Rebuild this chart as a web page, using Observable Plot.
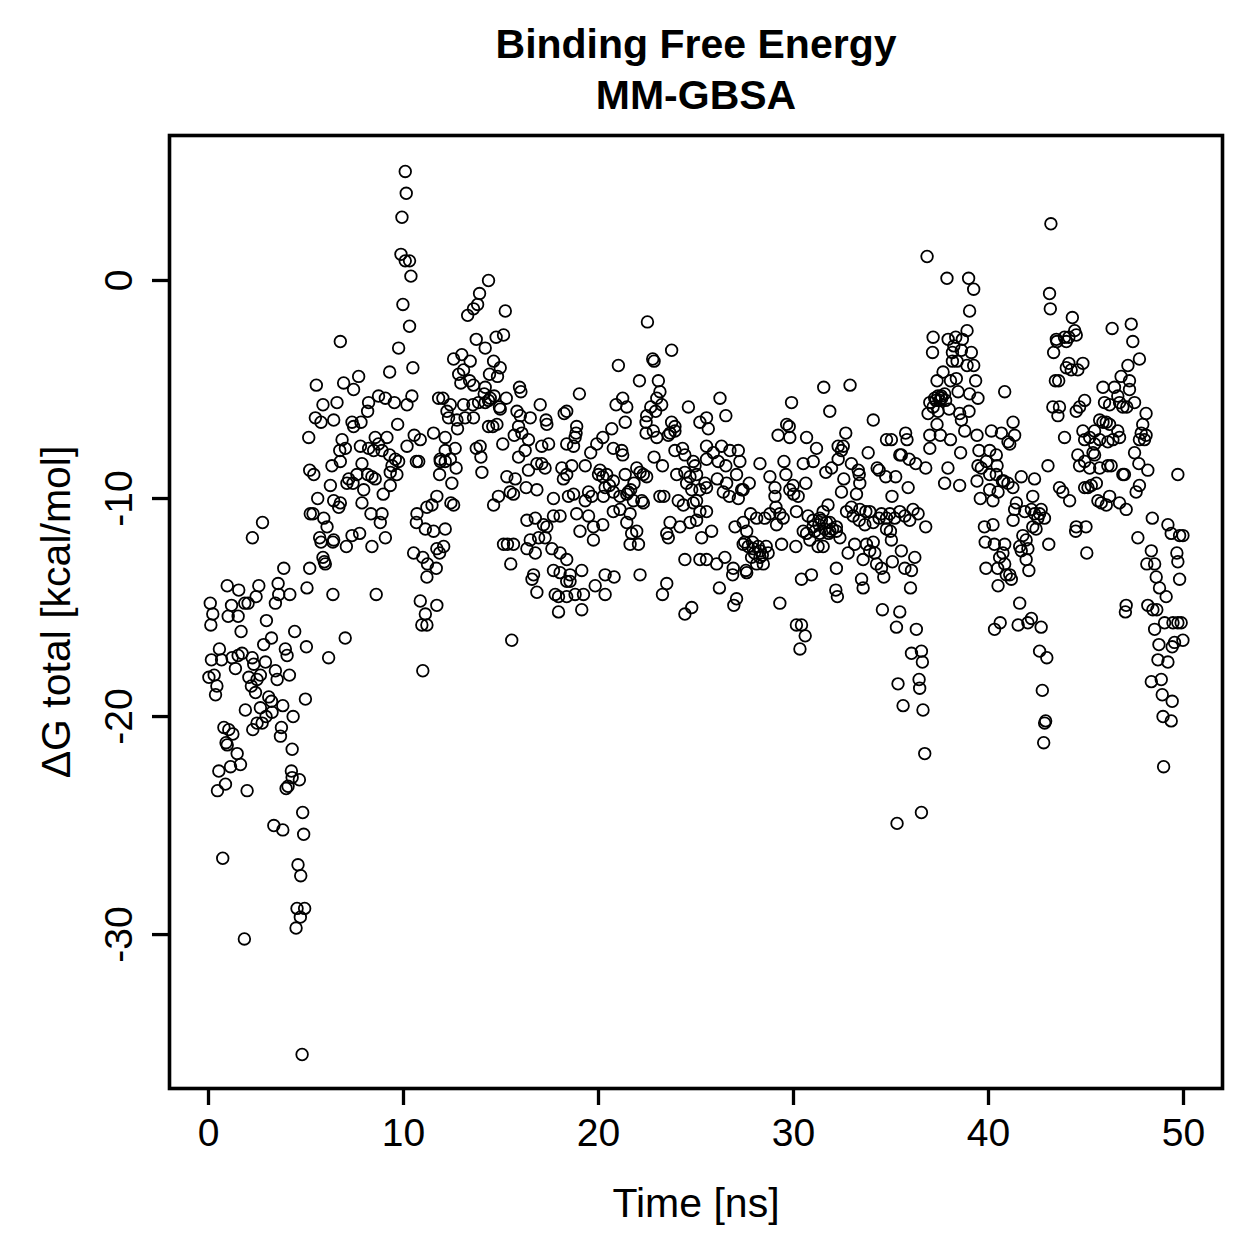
<!DOCTYPE html>
<html>
<head>
<meta charset="utf-8">
<script src="https://cdn.jsdelivr.net/npm/d3@7"></script>
<script src="https://cdn.jsdelivr.net/npm/@observablehq/plot@0.6"></script>
<style>
  html, body { margin: 0; padding: 0; background: #fff; }
  #chart svg { display: block; }
</style>
</head>
<body>
<div id="chart"></div>
<script>
// MM-GBSA binding free energy per frame: simulation time (ns) and ΔG total (kcal/mol)
const time = [
  // 0–5 ns
  0.09,0.22,0.12,0.96,1.55,1.18,1.01,1.52,1.67,2.58,
  2.44,2.03,1.86,2.97,3.23,2.83,3.57,3.60,3.43,4.17,
  3.86,5.19,5.05,4.42,5.02,3.94,4.03,0.56,0.15,0.67,
  1.21,1.38,1.72,1.52,2.24,2.32,2.92,2.66,2.07,2.49,
  2.20,2.41,3.43,3.52,4.15,0.02,0.29,0.43,0.36,1.89,
  2.66,3.09,3.23,3.26,2.95,3.81,4.34,4.97,2.75,2.49,
  2.27,3.74,3.69,0.79,1.04,1.25,0.90,0.96,1.47,1.64,
  1.13,0.53,0.87,0.46,1.98,4.29,4.25,4.29,4.66,4.08,
  3.98,4.83,3.35,3.81,4.88,0.73,4.59,4.73,4.54,4.93,
  4.71,4.49,1.84,4.80,2.25,2.77,
  // 5–12 ns
  10.09,10.14,9.92,9.87,10.09,10.31,10.38,9.97,10.31,9.75,
  6.76,10.48,9.29,5.53,6.93,7.70,7.44,8.72,9.07,9.53,
  10.18,10.43,11.80,5.87,6.59,8.21,8.16,5.48,5.77,6.42,
  7.36,7.82,7.44,9.70,5.14,6.85,6.73,7.02,7.79,8.21,
  8.55,8.72,9.15,8.90,8.47,10.18,10.55,10.86,11.54,9.29,
  9.58,9.75,10.66,10.78,11.88,11.85,6.33,6.76,7.87,8.16,
  7.61,7.19,7.10,7.41,8.38,8.55,9.32,9.66,9.41,5.19,
  5.40,6.25,7.96,8.96,9.32,5.60,6.42,6.76,6.68,7.87,
  5.22,5.36,5.91,6.08,8.33,8.90,8.81,10.69,10.66,11.20,
  11.46,11.12,11.54,11.71,5.70,5.77,6.38,6.42,7.07,7.36,
  7.75,8.38,9.07,10.52,10.99,11.23,11.71,11.68,5.87,5.94,
  5.99,6.38,8.60,11.20,11.71,10.86,10.94,11.12,11.20,6.16,
  7.01,10.99,
  // 12–18.5 ns
  14.36,13.90,13.80,13.59,13.29,15.22,13.73,14.19,14.75,15.13,
  12.57,12.99,13.42,14.62,14.96,12.83,13.08,12.94,13.39,13.59,
  14.19,14.41,14.82,14.14,14.45,14.65,15.27,15.95,16.02,12.02,
  12.40,13.08,13.56,13.85,14.19,14.36,14.92,14.96,17.01,18.24,
  18.37,15.99,16.50,17.31,17.35,15.82,12.23,12.31,12.74,13.16,
  13.59,12.77,14.36,14.58,14.79,15.90,16.07,15.68,12.14,12.65,
  15.09,16.41,17.09,17.44,18.37,13.73,13.93,13.97,14.02,12.14,
  12.40,11.89,12.70,12.14,15.90,16.24,16.41,16.84,17.09,17.26,
  18.12,18.37,18.20,15.30,15.73,16.29,16.84,15.47,15.64,14.87,
  14.62,12.48,12.43,12.57,17.69,18.46,16.33,16.76,17.18,17.69,
  18.03,17.35,12.14,12.06,11.85,15.13,15.33,15.64,15.50,16.50,
  16.93,17.26,16.33,16.76,17.61,18.03,18.37,17.69,18.03,18.37,
  16.67,16.59,16.84,17.78,17.95,18.37,17.95,15.55,
  // 18.5–25.5 ns
  22.51,23.75,22.78,22.85,21.02,22.10,23.07,19.02,23.15,22.99,
  23.24,20.90,21.24,21.45,22.68,22.93,24.61,21.37,22.47,22.44,
  22.81,22.44,22.99,23.75,23.92,23.67,23.92,23.58,25.20,25.54,
  25.63,18.88,18.85,18.80,20.68,20.22,18.72,19.91,19.60,20.76,
  21.19,21.24,22.85,23.28,23.92,24.31,24.43,24.86,24.95,25.54,
  25.54,18.63,19.32,20.08,20.42,20.22,20.76,20.56,20.00,21.37,
  21.96,22.13,22.30,22.47,21.82,21.53,21.65,24.01,24.43,24.69,
  25.03,25.46,24.52,24.78,25.20,25.03,25.54,18.72,19.49,19.66,
  19.32,20.34,20.76,20.25,21.10,21.45,21.79,22.22,22.30,23.15,
  23.35,24.09,24.35,24.86,25.20,25.54,18.88,19.49,19.05,19.74,
  20.22,20.76,21.10,21.62,21.45,21.96,21.70,22.05,21.62,19.74,
  23.67,24.18,24.69,25.03,23.50,23.58,25.29,24.43,25.20,25.54,
  19.14,18.54,18.54,18.80,19.23,19.83,20.34,20.34,20.80,19.14,
  22.13,23.50,23.28,24.43,24.78,
  // 25.5–32.5 ns
  26.23,26.53,29.90,31.55,31.86,29.65,29.78,29.21,29.81,30.67,
  31.18,31.01,30.50,31.66,31.95,32.29,32.29,25.89,26.31,26.74,
  27.17,27.25,26.14,26.53,28.28,28.79,29.51,29.61,29.05,26.09,
  26.57,26.40,27.08,27.42,27.73,26.71,27.17,27.34,29.81,30.01,
  30.24,30.63,29.98,29.05,29.10,28.79,29.30,29.47,29.13,28.53,
  28.11,27.80,30.15,30.75,31.01,31.35,31.52,31.77,31.86,32.20,
  25.80,27.00,27.42,27.60,27.42,27.68,27.94,28.19,27.85,28.28,
  28.45,28.70,28.11,27.60,29.39,30.12,30.50,30.67,30.84,31.10,
  31.35,31.26,31.52,31.86,32.20,31.43,31.69,26.48,26.06,26.91,
  26.88,27.56,26.20,27.08,26.94,29.30,30.41,30.92,32.20,32.17,
  32.25,30.15,30.41,30.33,30.60,27.50,27.90,28.00,28.30,28.60,
  28.40,31.00,31.30,31.60,32.00,31.80,
  // 32.5–37 ns
  32.90,34.09,32.68,32.55,32.46,33.83,34.77,35.02,35.75,35.82,
  35.53,35.45,35.93,36.27,36.78,32.97,33.32,33.37,34.29,34.39,
  34.73,35.24,32.58,33.40,35.88,35.05,33.23,32.46,32.72,32.97,
  33.06,33.40,33.71,33.91,33.37,33.66,34.09,34.39,34.51,34.77,
  34.94,35.19,35.45,35.71,35.96,36.13,36.39,36.78,34.77,34.97,
  32.38,33.14,32.80,33.74,34.09,33.91,34.17,33.57,34.26,34.51,
  34.63,35.07,35.02,35.53,35.71,36.05,36.22,33.49,33.57,36.00,
  34.56,35.45,35.28,36.30,36.05,36.56,
  // 37–41 ns
  36.85,37.87,38.98,39.24,39.03,38.90,37.16,37.93,38.32,38.66,
  38.22,38.15,37.13,38.61,39.12,39.24,38.90,38.15,38.39,37.67,
  37.36,38.05,38.35,39.34,38.44,39.03,39.46,40.83,36.99,37.24,
  37.41,37.58,37.75,37.16,37.50,36.90,37.41,37.98,38.52,39.00,
  38.61,38.78,39.41,40.15,40.66,41.00,37.36,36.99,37.53,38.05,
  38.57,36.99,39.51,40.06,40.40,39.46,39.63,39.89,40.44,40.78,
  41.00,40.06,40.40,37.92,37.75,38.52,39.41,39.58,40.06,40.49,
  40.71,40.23,39.79,40.23,39.83,40.30,39.87,40.47,40.57,40.74,
  40.83,40.91,40.49,40.83,40.60,40.31,36.61,35.36,36.44,36.47,
  35.62,36.64,36.73,36.56,35.31,37.30,37.60,37.80,
  // 41–45 ns
  43.13,43.17,44.30,44.42,43.99,43.48,43.34,43.51,43.90,44.12,
  44.50,44.84,44.12,43.99,44.24,44.58,43.43,43.60,43.30,43.64,
  43.56,44.50,44.67,44.93,41.26,41.34,41.09,43.90,44.84,44.93,
  44.58,44.93,44.67,44.93,43.05,42.36,41.68,43.64,43.81,44.16,
  41.25,42.27,41.43,41.34,41.86,42.20,42.36,42.53,42.62,42.87,
  42.70,41.26,42.27,41.76,41.93,41.60,42.02,41.68,42.44,43.09,
  41.93,42.07,41.09,41.17,44.50,44.47,45.00,45.04,41.60,41.52,
  42.02,42.20,42.70,42.62,42.99,42.76,42.93,42.88,42.83,
  // 45–50 ns
  43.20,46.34,47.32,47.40,47.74,47.15,46.80,47.23,45.87,46.46,
  46.63,45.95,46.21,46.72,46.89,47.09,47.49,47.23,48.08,47.91,
  47.83,48.08,48.00,47.74,45.70,45.87,45.44,45.19,45.44,45.70,
  46.04,46.21,46.63,46.72,46.38,46.12,47.49,47.71,48.17,49.71,
  45.44,45.36,45.19,45.70,46.12,46.29,46.89,46.97,45.27,45.53,
  45.10,45.61,45.78,46.04,46.21,46.72,47.06,47.57,47.74,48.40,
  49.20,49.37,49.80,49.97,47.66,48.35,48.12,48.52,49.66,49.71,
  49.80,48.60,48.77,49.11,47.06,47.02,48.17,48.43,48.63,48.52,
  49.03,49.46,49.71,49.88,49.97,49.54,49.42,48.74,48.69,49.20,
  48.35,48.86,48.91,49.42,48.95,49.37,48.98
];

const dG = [
  // 0–5 ns
  -14.8,-15.3,-15.8,-14.0,-14.2,-14.9,-15.4,-15.4,-16.1,-14.0,
  -14.5,-14.8,-14.8,-15.6,-16.4,-16.7,-13.9,-14.4,-14.8,-14.4,
  -13.2,-13.2,-14.1,-16.1,-16.8,-16.9,-17.2,-16.9,-17.4,-17.4,
  -17.3,-17.8,-17.1,-17.2,-17.3,-17.6,-17.5,-18.1,-18.2,-18.3,
  -18.6,-18.9,-17.9,-18.3,-18.1,-18.2,-18.1,-18.6,-19.0,-19.7,
  -19.6,-19.1,-19.3,-19.8,-20.0,-19.5,-20.0,-19.2,-20.3,-20.3,
  -20.6,-20.5,-20.9,-20.5,-20.6,-20.8,-21.2,-21.3,-21.7,-22.2,
  -22.3,-22.5,-23.1,-23.4,-23.4,-21.5,-22.5,-22.8,-22.9,-23.2,
  -23.3,-24.4,-25.0,-25.2,-25.4,-26.5,-26.8,-27.3,-28.8,-28.8,
  -29.2,-29.7,-30.2,-35.5,-11.8,-11.1,
  // 5–12 ns
  5.0,4.0,2.9,1.2,0.9,0.9,0.2,-1.1,-2.1,-3.1,
  -2.8,-4.0,-4.2,-4.8,-4.7,-4.4,-5.0,-5.3,-5.4,-5.6,
  -5.7,-5.3,-5.4,-5.7,-5.6,-5.6,-6.0,-6.3,-6.5,-6.4,
  -6.5,-6.5,-6.7,-6.6,-7.2,-7.3,-7.8,-7.7,-7.6,-7.7,
  -7.2,-7.5,-7.2,-7.8,-7.8,-7.6,-7.1,-7.3,-7.0,-8.0,
  -8.2,-8.3,-8.3,-8.3,-8.2,-8.9,-8.5,-8.3,-8.4,-8.9,
  -8.9,-9.1,-9.3,-9.3,-9.0,-9.1,-8.8,-8.9,-8.5,-8.7,
  -8.9,-9.4,-9.6,-9.8,-9.4,-10.0,-10.1,-10.2,-10.4,-10.2,
  -10.7,-10.7,-10.9,-11.3,-10.7,-10.7,-11.1,-10.7,-11.1,-10.4,
  -10.3,-11.4,-11.5,-9.9,-11.8,-12.0,-12.0,-11.9,-12.2,-11.7,
  -11.6,-12.2,-11.8,-12.5,-12.7,-13.0,-12.3,-13.2,-12.7,-12.9,
  -13.0,-14.4,-14.4,-13.6,-14.9,-14.7,-15.8,-15.3,-15.8,-17.3,
  -16.4,-17.9,
  // 12–18.5 ns
  0.0,-0.6,-1.1,-1.3,-1.6,-1.4,-2.7,-3.1,-2.6,-2.5,
  -3.6,-3.4,-3.7,-3.7,-4.0,-4.3,-4.1,-4.7,-4.6,-4.8,
  -4.9,-4.3,-4.4,-5.2,-5.4,-5.3,-5.4,-4.9,-5.1,-5.4,
  -5.7,-5.7,-5.7,-5.6,-5.6,-5.5,-5.8,-5.9,-5.7,-6.1,
  -6.0,-6.2,-6.3,-6.4,-6.6,-6.0,-6.0,-6.3,-6.4,-6.3,
  -6.3,-6.8,-6.7,-6.7,-6.6,-6.7,-7.0,-7.1,-7.2,-7.7,
  -7.5,-7.3,-7.6,-7.5,-7.5,-7.7,-7.6,-8.1,-8.8,-7.8,
  -8.2,-8.3,-8.6,-8.3,-8.1,-7.8,-8.7,-8.4,-8.4,-8.6,
  -8.6,-8.9,-9.1,-9.0,-9.1,-9.5,-9.6,-9.7,-9.8,-9.9,
  -10.3,-9.3,-10.2,-10.3,-10.0,-9.9,-11.0,-10.9,-11.2,-10.8,
  -10.8,-11.3,-11.4,-12.2,-12.5,-12.1,-12.1,-12.1,-13.0,-11.9,
  -11.8,-11.8,-12.3,-12.5,-12.3,-12.5,-12.8,-13.3,-13.4,-13.8,
  -13.5,-13.7,-14.3,-14.4,-14.5,-14.5,-15.2,-16.5,
  // 18.5–25.5 ns
  -1.9,-3.2,-3.6,-3.7,-3.9,-4.6,-4.6,-5.2,-5.1,-5.4,
  -5.7,-5.7,-5.4,-5.8,-5.8,-6.0,-5.8,-6.5,-6.2,-6.5,
  -6.9,-7.0,-7.2,-6.5,-6.7,-7.0,-6.9,-7.1,-6.5,-6.3,
  -6.8,-6.7,-7.0,-7.2,-6.8,-7.2,-7.6,-7.5,-7.9,-7.7,
  -7.8,-8.0,-8.1,-8.5,-7.8,-7.7,-8.0,-8.3,-8.5,-7.6,
  -8.2,-8.5,-8.5,-8.7,-8.9,-9.0,-9.2,-9.4,-8.9,-8.9,
  -8.6,-8.8,-8.9,-9.0,-9.3,-9.7,-9.6,-8.9,-8.8,-9.0,
  -8.9,-9.3,-9.3,-9.6,-9.6,-10.1,-9.5,-9.8,-9.7,-9.9,
  -10.1,-9.5,-9.7,-9.9,-9.9,-9.8,-10.1,-10.1,-10.2,-9.9,
  -9.9,-10.1,-10.3,-10.2,-10.6,-10.6,-10.7,-10.8,-11.5,-11.3,
  -11.2,-10.6,-10.5,-10.7,-11.1,-11.5,-11.6,-12.1,-12.1,-11.9,
  -11.1,-11.3,-11.1,-11.0,-11.6,-11.8,-11.8,-12.8,-12.8,-12.8,
  -13.3,-13.5,-13.8,-14.4,-14.4,-14.0,-14.4,-13.5,-13.6,-15.1,
  -13.5,-13.9,-14.4,-15.3,-15.0,
  // 25.5–32.5 ns
  -5.4,-6.2,-5.6,-4.9,-6.0,-6.6,-6.7,-7.1,-7.2,-7.2,
  -7.7,-8.3,-8.4,-8.8,-8.6,-7.6,-8.2,-7.9,-7.6,-7.8,
  -7.8,-8.3,-8.3,-8.5,-8.4,-9.0,-8.3,-8.9,-9.5,-9.1,
  -9.3,-9.7,-8.9,-9.6,-9.3,-9.9,-10.0,-9.6,-9.6,-9.8,
  -9.9,-9.3,-9.4,-9.9,-10.4,-10.7,-10.7,-10.9,-11.2,-10.9,
  -10.9,-10.7,-10.6,-10.8,-11.0,-10.9,-10.6,-10.3,-11.1,-11.3,
  -11.5,-11.3,-11.1,-11.5,-12.1,-12.2,-12.3,-12.2,-12.7,-12.7,
  -13.0,-12.5,-13.0,-13.4,-12.1,-12.2,-11.5,-11.6,-11.9,-11.5,
  -11.6,-12.2,-12.2,-11.5,-11.5,-11.0,-11.1,-12.7,-13.0,-13.2,
  -13.5,-13.3,-14.1,-14.6,-14.9,-14.8,-13.7,-13.5,-13.2,-14.2,
  -14.5,-15.8,-15.8,-16.9,-16.3,-12.0,-12.0,-12.5,-12.4,-12.2,
  -12.6,-11.3,-11.2,-11.4,-11.4,-11.6,
  // 32.5–37 ns
  -4.8,-6.4,-7.0,-7.6,-7.8,-7.9,-7.3,-7.3,-7.0,-7.3,
  -8.0,-8.0,-8.2,-8.4,-8.6,-8.4,-8.7,-8.9,-8.6,-8.7,
  -9.0,-9.0,-9.1,-9.3,-9.5,-9.9,-9.8,-9.7,-10.6,-10.4,
  -10.8,-10.5,-10.6,-10.6,-11.0,-11.2,-11.1,-10.9,-10.7,-10.9,
  -10.7,-10.9,-10.6,-10.8,-11.0,-10.5,-10.7,-11.3,-11.4,-11.5,
  -11.8,-12.1,-12.5,-12.1,-12.0,-12.4,-12.5,-12.8,-13.0,-13.2,
  -13.6,-12.9,-11.9,-12.4,-13.2,-13.3,-12.7,-13.7,-14.1,-14.1,
  -15.1,-15.2,-15.9,-16.0,-17.1,-17.0,
  // 37–41 ns
  1.1,0.1,0.1,-0.4,-1.4,-2.3,-2.6,-2.7,-2.6,-2.7,
  -3.0,-3.3,-3.3,-3.2,-3.3,-3.9,-3.9,-3.7,-3.7,-4.2,
  -4.6,-4.6,-4.5,-4.6,-5.1,-5.2,-5.4,-5.1,-5.6,-5.4,
  -5.3,-5.3,-5.2,-5.8,-5.5,-6.1,-6.0,-5.9,-6.1,-6.0,
  -6.4,-6.9,-7.1,-6.9,-7.0,-7.4,-6.6,-7.1,-7.1,-7.3,
  -7.9,-7.7,-7.8,-7.8,-8.0,-8.5,-8.6,-8.3,-8.5,-9.2,
  -9.3,-8.9,-8.9,-8.6,-9.3,-9.4,-9.2,-10.0,-9.6,-9.7,
  -9.2,-10.1,-11.3,-11.2,-12.0,-12.1,-13.2,-13.2,-12.7,-12.5,
  -12.1,-13.5,-14.0,-13.0,-15.7,-16.0,-17.5,-18.5,-18.3,-18.7,
  -19.5,-19.7,-21.7,-24.4,-24.9,-5.5,-5.4,-5.5,
  // 41–45 ns
  -0.6,-1.3,-1.7,-2.3,-2.8,-2.7,-3.3,-2.8,-2.6,-2.6,
  -2.5,-3.8,-3.8,-4.0,-4.1,-4.1,-4.6,-4.6,-5.8,-5.8,
  -6.2,-6.0,-5.8,-5.5,-6.5,-7.1,-7.5,-7.2,-6.9,-7.3,
  -8.0,-8.3,-8.5,-9.5,-8.5,-9.1,-9.0,-9.5,-9.7,-10.1,
  -9.5,-9.9,-10.2,-10.5,-10.6,-10.5,-10.7,-10.9,-10.7,-10.9,
  -10.5,-11.0,-11.3,-11.7,-11.9,-12.2,-12.3,-12.4,-11.4,-12.1,
  -12.8,-13.3,-13.5,-13.7,-11.3,-11.5,-11.3,-12.5,-14.8,-15.8,
  -15.7,-15.5,-15.9,-17.0,-17.3,-18.8,-20.2,-20.3,-21.2,
  // 45–50 ns
  2.6,-2.2,-2.0,-2.8,-3.6,-3.9,-4.4,-4.6,-4.9,-4.9,
  -5.3,-5.6,-5.7,-5.6,-5.8,-5.8,-5.6,-5.0,-6.1,-6.6,
  -7.0,-7.1,-7.3,-7.3,-6.4,-6.5,-6.9,-7.2,-7.5,-7.3,
  -6.5,-6.6,-6.9,-7.2,-7.3,-7.4,-7.9,-8.4,-8.7,-8.9,
  -8.0,-7.9,-8.6,-8.6,-8.5,-8.5,-8.9,-8.9,-9.4,-9.3,
  -9.5,-10.1,-10.2,-10.3,-9.9,-10.2,-10.5,-9.7,-9.4,-10.9,
  -11.2,-11.6,-11.7,-11.7,-11.8,-12.4,-13.0,-13.0,-12.5,-12.9,
  -13.7,-13.6,-14.1,-14.5,-14.9,-15.2,-14.9,-15.1,-15.1,-16.0,
  -15.7,-15.7,-15.7,-15.7,-16.5,-16.6,-16.8,-16.7,-17.4,-17.5,
  -18.4,-18.3,-19.0,-19.3,-20.0,-20.2,-22.3
];

const xTicks = [0, 10, 20, 30, 40, 50];
const yTicks = [0, -10, -20, -30];
const titleText = "Binding Free Energy\nMM-GBSA";
const xLabel = "Time [ns]";
const yLabel = "ΔG total [kcal/mol]";

const points = time.map((t, i) => ({time: t, dG: dG[i]}));
const fmt = d => String(d);
const FONT = 41;
const TICK_FONT = 39;

const chart = Plot.plot({
  width: 1259,
  height: 1259,
  marginTop: 135,
  marginRight: 37,
  marginBottom: 171,
  marginLeft: 169,
  style: {
    fontFamily: "'Liberation Sans', Arial, Helvetica, sans-serif",
    fontSize: FONT + "px",
    color: "black",
    background: "white",
    overflow: "visible"
  },
  x: {domain: [-2, 52]},
  y: {domain: [-37.06, 6.65]},
  marks: [
    Plot.dot(points, {x: "time", y: "dG", r: 5.8, stroke: "black", strokeWidth: 1.8, fill: "none"}),
    Plot.frame({stroke: "black", strokeWidth: 3.6}),
    Plot.axisX({ticks: xTicks, tickSize: 17, tickPadding: 13, tickFormat: fmt,
                fontSize: TICK_FONT, strokeWidth: 3.3, label: null}),
    Plot.axisY({ticks: yTicks, tickSize: 17, tickFormat: () => "", strokeWidth: 3.3, label: null}),
    // y tick labels run parallel to the axis
    Plot.text(yTicks, {y: d => d, frameAnchor: "left", text: fmt, rotate: -90,
                       textAnchor: "middle", lineAnchor: "bottom", dx: -38, fontSize: TICK_FONT}),
    // axis titles
    Plot.text([xLabel], {frameAnchor: "bottom", text: d => d, lineAnchor: "bottom",
                         dy: 128, fontSize: FONT}),
    Plot.text([yLabel], {frameAnchor: "left", text: d => d, rotate: -90, textAnchor: "middle",
                         lineAnchor: "bottom", dx: -100, fontSize: FONT}),
    // two-line bold title
    Plot.text([titleText], {frameAnchor: "top", text: d => d, lineAnchor: "bottom",
                            lineHeight: 1.22, dy: -27, fontSize: FONT, fontWeight: "bold"})
  ]
});

document.getElementById("chart").appendChild(chart);
</script>
</body>
</html>
